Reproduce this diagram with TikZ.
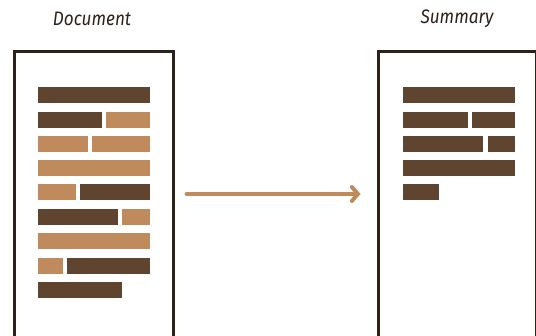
\documentclass[tikz,border=0pt]{standalone}
\usepackage{fontspec}
\newfontfamily\titlefont[FakeStretch=0.88]{Fira Sans}
\usepackage{tikz}
\usetikzlibrary{arrows.meta}

\definecolor{inkdark}{HTML}{2E2119}
\definecolor{bardark}{HTML}{5F4530}
\definecolor{barlight}{HTML}{C08B5C}

\tikzset{
  page/.style={draw=inkdark,line width=3bp,minimum width=158bp,minimum height=330bp,inner sep=0pt},
  title/.style={text=inkdark,font=\titlefont\fontsize{19.5bp}{22bp}\selectfont\itshape},
  bar/.style={inner sep=0pt,minimum height=16bp,anchor=west},
  dbar/.style={bar,fill=bardark},
  lbar/.style={bar,fill=barlight},
}

\begin{document}
\begin{tikzpicture}[x=1bp,y=1bp]
\useasboundingbox (0,0) rectangle (536,335);
\clip (0,0) rectangle (536,335);
% the two sheets
\node (doc) at (94,118) [page] {};
\node (summ) at (457,118) [page] {};
\node (doctitle) at (92,316) [title] {Document};
\node (summtitle) at (457,316) [title] {Summary};
% full text
\node (d1a) at (38,240) [dbar,minimum width=112bp] {};
\node (d2a) at (38,215) [dbar,minimum width=64bp] {};
\node (d2b) at (106,215) [lbar,minimum width=44bp] {};
\node (d3a) at (38,191) [lbar,minimum width=50bp] {};
\node (d3b) at (92,191) [lbar,minimum width=58bp] {};
\node (d4a) at (38,167) [lbar,minimum width=112bp] {};
\node (d5a) at (38,143) [lbar,minimum width=38bp] {};
\node (d5b) at (80,143) [dbar,minimum width=70bp] {};
\node (d6a) at (38,118) [dbar,minimum width=80bp] {};
\node (d6b) at (122,118) [lbar,minimum width=28bp] {};
\node (d7a) at (38,94) [lbar,minimum width=112bp] {};
\node (d8a) at (38,69) [lbar,minimum width=25bp] {};
\node (d8b) at (67,69) [dbar,minimum width=83bp] {};
\node (d9a) at (38,45) [dbar,minimum width=84bp] {};
% kept lines
\node (s1a) at (403,240) [dbar,minimum width=112bp] {};
\node (s2a) at (403,215) [dbar,minimum width=65bp] {};
\node (s2b) at (472,215) [dbar,minimum width=43bp] {};
\node (s3a) at (403,191) [dbar,minimum width=80bp] {};
\node (s3b) at (488,191) [dbar,minimum width=27bp] {};
\node (s4a) at (403,167) [dbar,minimum width=112bp] {};
\node (s5a) at (403,143) [dbar,minimum width=36bp] {};
\draw [-{Straight Barb[length=6bp,width=14bp,line cap=round]},line width=4bp,line cap=round,color=barlight,shorten <=12bp,shorten >=16bp]
  ([yshift=23bp]doc.east) -- ([yshift=23bp]summ.west);
\end{tikzpicture}
\end{document}
